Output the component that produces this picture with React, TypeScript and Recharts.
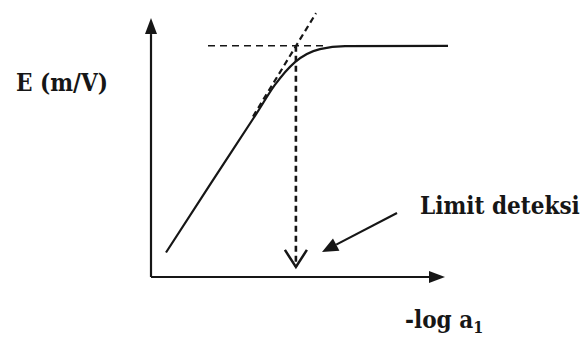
import { LineChart, Line, XAxis, YAxis, ReferenceLine, Customized } from "recharts";

// potentiometric response curve
const curveX = [5, 20, 35.3, 41.3, 48, 56.3, 64.7, 99];
const curveY = [9, 34.5, 60.3, 70.6, 79, 83.8, 84.9, 85];

const plateauLevel = 85;
const plateauDashFrom = 19;
const plateauDashTo = 58;

const tangentFrom = { x: 34, y: 59 };
const tangentTo = { x: 55, y: 97 };

const detectionX = 48.3;
const detectionBottom = 3.7;

const pointerFrom = { x: 82, y: 23.5 };
const pointerTo = { x: 57, y: 9.2 };

const axisEndX = 98;
const axisEndY = 95.2;

const yLabel = "E (m/V)";
const xLabel = "-log a";
const xLabelSub = "1";
const pointerLabel = "Limit deteksi";

const curveData = curveX.map((x, i) => ({ x, y: curveY[i] }));

const INK = "#161616";
const FONT = '"DejaVu Serif Condensed", "DejaVu Serif", serif';

type Seg = { x1: number; y1: number; x2: number; y2: number };

// line with a filled or open head at (x2, y2)
const arrow =
  (head: "filled" | "open", opts: { width: number; dash?: string; len: number; half: number }) =>
  (p: any) => {
    const { x1, y1, x2, y2 } = p as Seg;
    const dx = x2 - x1;
    const dy = y2 - y1;
    const d = Math.hypot(dx, dy) || 1;
    const ux = dx / d;
    const uy = dy / d;
    const bx = x2 - ux * opts.len;
    const by = y2 - uy * opts.len;
    const lx = bx - uy * opts.half;
    const ly = by + ux * opts.half;
    const rx = bx + uy * opts.half;
    const ry = by - ux * opts.half;
    const endX = head === "filled" ? bx : x2;
    const endY = head === "filled" ? by : y2;
    return (
      <g>
        <line
          x1={x1}
          y1={y1}
          x2={endX}
          y2={endY}
          stroke={INK}
          strokeWidth={opts.width}
          strokeDasharray={opts.dash}
        />
        {head === "filled" ? (
          <polygon points={`${x2},${y2} ${lx},${ly} ${rx},${ry}`} fill={INK} />
        ) : (
          <polyline
            points={`${lx},${ly} ${x2},${y2} ${rx},${ry}`}
            fill="none"
            stroke={INK}
            strokeWidth={2.5}
          />
        )}
      </g>
    );
  };

const textStyle = {
  fontFamily: FONT,
  fontWeight: 700,
  fontStretch: "condensed",
  fill: INK,
} as const;

const Labels = () => (
  <g>
    <text x={16} y={91} fontSize={24} style={textStyle}>
      {yLabel}
    </text>
    <text x={420} y={214} fontSize={24} style={textStyle}>
      {pointerLabel}
    </text>
    <text x={405} y={328} fontSize={24} style={textStyle}>
      {xLabel}
      <tspan fontSize={16} dy={5}>
        {xLabelSub}
      </tspan>
    </text>
  </g>
);

export default function App() {
  return (
    <div
      style={{
        position: "absolute",
        left: 0,
        top: 0,
        background: "#fff",
        fontFamily: FONT,
      }}
    >
      <LineChart
        width={586}
        height={340}
        data={curveData}
        margin={{ top: 5, right: 135, bottom: 63, left: 151 }}
      >
        <XAxis type="number" dataKey="x" domain={[0, 100]} hide />
        <YAxis type="number" dataKey="y" domain={[0, 100]} hide />

        {/* axes */}
        <ReferenceLine
          segment={[{ x: 0, y: 0 }, { x: 0, y: axisEndY }]}
          ifOverflow="visible"
          shape={arrow("filled", { width: 2.2, len: 16, half: 6 })}
        />
        <ReferenceLine
          segment={[{ x: 0, y: 0 }, { x: axisEndX, y: 0 }]}
          ifOverflow="visible"
          shape={arrow("filled", { width: 2.2, len: 16, half: 6 })}
        />

        {/* construction lines */}
        <ReferenceLine
          segment={[
            { x: plateauDashFrom, y: plateauLevel },
            { x: plateauDashTo, y: plateauLevel },
          ]}
          ifOverflow="visible"
          stroke={INK}
          strokeWidth={1.6}
          strokeDasharray="7 5"
        />
        <ReferenceLine
          segment={[tangentFrom, tangentTo]}
          ifOverflow="visible"
          stroke={INK}
          strokeWidth={2.2}
          strokeDasharray="6 4"
        />
        <ReferenceLine
          segment={[
            { x: detectionX, y: plateauLevel },
            { x: detectionX, y: detectionBottom },
          ]}
          ifOverflow="visible"
          shape={arrow("open", { width: 2.6, dash: "6 4", len: 17, half: 11 })}
        />
        <ReferenceLine
          segment={[pointerFrom, pointerTo]}
          ifOverflow="visible"
          shape={arrow("filled", { width: 2.2, len: 16, half: 7 })}
        />

        <Line
          type="monotone"
          dataKey="y"
          stroke={INK}
          strokeWidth={2.2}
          dot={false}
          activeDot={false}
          isAnimationActive={false}
        />

        <Customized component={Labels} />
      </LineChart>
    </div>
  );
}
